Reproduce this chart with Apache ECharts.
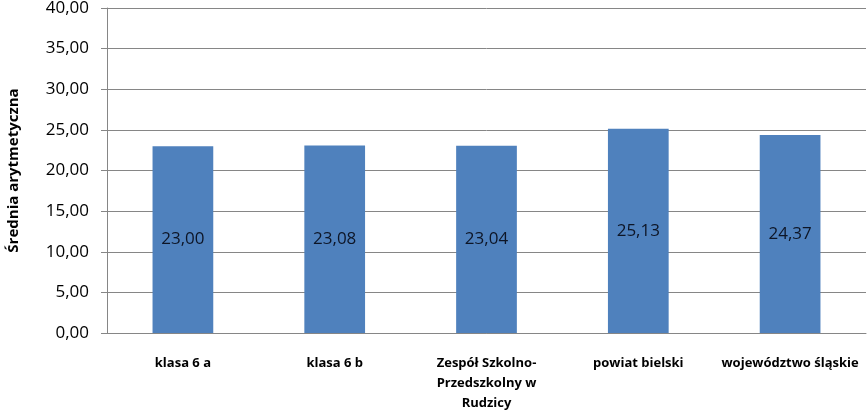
<!DOCTYPE html>
<html>
<head>
<meta charset="utf-8">
<script src="https://cdn.jsdelivr.net/npm/echarts@6/dist/echarts.min.js"></script>
<style>
  html, body { margin: 0; padding: 0; background: #fff; }
  #chart { width: 867px; height: 410px; }
</style>
</head>
<body>
<div id="chart"></div>
<script>
const categories = ['klasa 6 a', 'klasa 6 b', 'Zespół Szkolno-\nPrzedszkolny w\nRudzicy', 'powiat bielski', 'województwo śląskie'];
const averages = [23.00, 23.08, 23.04, 25.13, 24.37];
const axisTitle = 'Średnia arytmetyczna';

// polish decimal comma
function fmt(v) {
    return Number(v).toFixed(2).replace('.', ',');
}

const chart = echarts.init(document.getElementById('chart'));
chart.setOption({
    animation: false,
    grid: { left: 107, right: 1, top: 8, bottom: 77, outerBoundsMode: 'none', containLabel: false },
    xAxis: {
        type: 'category',
        data: categories,
        axisLine: { lineStyle: { color: '#868686' } },
        axisTick: { show: false },
        axisLabel: {
            interval: 0,
            margin: 20,
            fontFamily: 'Open Sans',
            fontWeight: 'bold',
            fontSize: 13,
            lineHeight: 20,
            color: '#000'
        }
    },
    yAxis: {
        type: 'value',
        min: 0,
        max: 40,
        interval: 5,
        name: axisTitle,
        nameLocation: 'middle',
        nameGap: 86,
        nameTextStyle: { fontFamily: 'Open Sans', fontWeight: 'bold', fontSize: 15, color: '#000' },
        axisLine: { show: true, lineStyle: { color: '#868686' } },
        axisTick: { show: true, length: 6, lineStyle: { color: '#868686' } },
        splitLine: { lineStyle: { color: '#868686' } },
        axisLabel: {
            formatter: fmt,
            margin: 18,
            fontFamily: 'Open Sans',
            fontSize: 17,
            color: '#000'
        }
    },
    series: [{
        type: 'bar',
        data: averages,
        barWidth: '40%',
        itemStyle: { color: '#4F81BD' },
        label: {
            show: true,
            position: 'inside',
            formatter: p => fmt(p.value),
            fontFamily: 'Open Sans',
            fontSize: 17,
            color: '#0d1526'
        }
    }]
});
</script>
</body>
</html>
